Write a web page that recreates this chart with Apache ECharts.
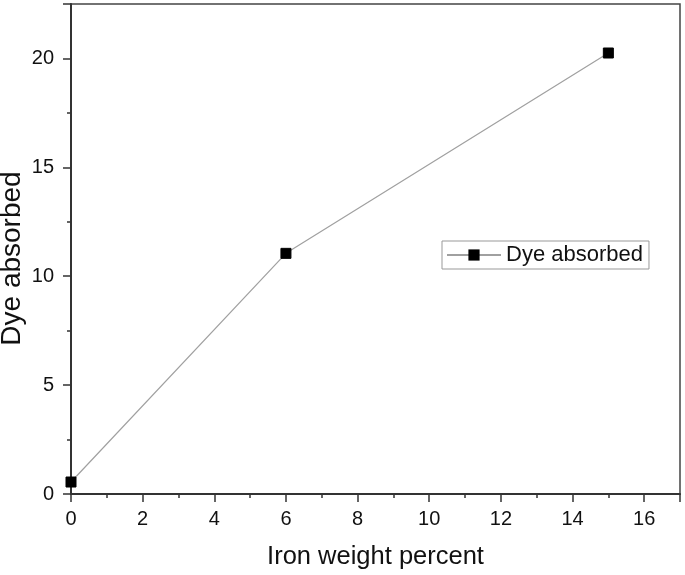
<!DOCTYPE html>
<html><head><meta charset="utf-8">
<script src="https://cdn.jsdelivr.net/npm/echarts@6/dist/echarts.min.js"></script>
<style>html,body{margin:0;padding:0;background:#fff}#c{width:685px;height:575px}</style>
</head><body><div id="c"></div>
<script>
const ironPercent = [0, 6, 15];
const dyeAbsorbed = [0.55, 11.05, 20.25];
const seriesName = 'Dye absorbed';
const xTitle = 'Iron weight percent';
const yTitle = 'Dye absorbed';

const chart = echarts.init(document.getElementById('c'));
const font = 'Liberation Sans, Arial, sans-serif';
chart.setOption({
  animation: false,
  backgroundColor: '#fff',
  grid: {left: 71, top: 4, right: 5, bottom: 81, outerBoundsMode: 'none', containLabel: false,
    show: true, borderColor: '#444', borderWidth: 1.5, backgroundColor: 'transparent'},
  legend: {
    data: [seriesName],
    left: 442, top: 241,
    padding: [3, 6, 3, 4],
    borderColor: '#999', borderWidth: 1,
    itemWidth: 54, itemHeight: 14, itemGap: 4,
    textStyle: {fontFamily: font, fontSize: 22, color: '#111', padding: [2, 0, 0, 0]}
  },
  xAxis: {
    type: 'value', min: 0, max: 17, interval: 2,
    name: xTitle, nameLocation: 'middle', nameGap: 50, nameMoveOverlap: false,
    nameTextStyle: {fontFamily: font, fontSize: 25.5, color: '#111'},
    axisLine: {show: true, onZero: false, lineStyle: {color: '#333', width: 2}},
    axisTick: {show: true, inside: false, length: 8, lineStyle: {color: '#333', width: 1.5}},
    minorTick: {show: true, splitNumber: 2, length: 4, lineStyle: {color: '#333', width: 1.5}},
    axisLabel: {fontFamily: font, fontSize: 20, color: '#111', margin: 15,
      formatter: v => (v > 16 ? '' : v)},
    splitLine: {show: false}
  },
  yAxis: {
    type: 'value', min: 0, max: 22.5, interval: 5,
    name: yTitle, nameLocation: 'middle', nameGap: 45, nameMoveOverlap: false,
    nameTextStyle: {fontFamily: font, fontSize: 28, color: '#111', padding: [0, 19, 0, 0]},
    axisLine: {show: true, onZero: false, lineStyle: {color: '#333', width: 2}},
    axisTick: {show: true, inside: false, length: 8, lineStyle: {color: '#333', width: 1.5}},
    minorTick: {show: true, splitNumber: 2, length: 4, lineStyle: {color: '#333', width: 1.5}},
    axisLabel: {fontFamily: font, fontSize: 20, color: '#111', margin: 17,
      formatter: v => (v > 20 ? '' : v)},
    splitLine: {show: false}
  },
  series: [{
    name: seriesName, type: 'line',
    data: ironPercent.map((x, i) => [x, dyeAbsorbed[i]]),
    symbol: 'rect', symbolSize: 10,
    itemStyle: {color: '#000', borderColor: '#000'},
    lineStyle: {color: '#a0a0a0', width: 1.2},
    clip: false, z: 1
  }]
});
</script></body></html>
